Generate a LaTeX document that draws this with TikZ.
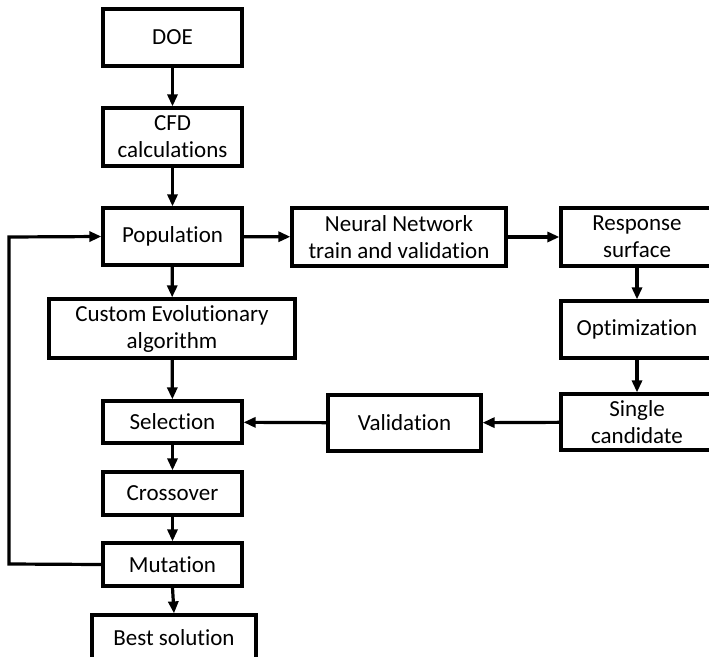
\documentclass[tikz,border=0pt]{standalone}
\usepackage{fontspec}
\setmainfont[RawFeature={-liga;-clig;-calt;-dlig}]{Carlito}
\usetikzlibrary{arrows.meta}
\begin{document}
\begin{tikzpicture}[x=1pt,y=-1pt,
  box/.style={draw=black, line width=3.2pt, fill=white, align=center, inner sep=0pt,
    font=\fontsize{23}{27}\selectfont},
  conn/.style={line width=3.2pt, -{Triangle[length=12pt,width=10pt]}}]
\useasboundingbox (0,0) rectangle (709,656);
% left column
\node[box, minimum width=139pt, minimum height=57pt] (doe) at (172.5,37.5) {DOE};
\node[box, minimum width=139pt, minimum height=58pt] (cfd) at (172.5,137) {CFD\\calculations};
\node[box, minimum width=139pt, minimum height=57pt] (pop) at (172.5,236.5) {Population};
\node[box, minimum width=246pt, minimum height=59pt] (cea) at (172,328.5) {Custom Evolutionary\\algorithm};
\node[box, minimum width=139pt, minimum height=42pt] (sel) at (172.5,422) {Selection};
\node[box, minimum width=139pt, minimum height=43pt] (cro) at (172.5,493.5) {Crossover};
\node[box, minimum width=139pt, minimum height=43pt] (mut) at (172.5,564.5) {Mutation};
\node[box, minimum width=164pt, minimum height=45pt] (best) at (174,637.5) {Best solution};
% right part
\node[box, minimum width=214pt, minimum height=58pt] (nn) at (399,237) {Neural Network\\train and validation};
\node[box, minimum width=152pt, minimum height=58pt] (rs) at (637,237) {Response\\surface};
\node[box, minimum width=152pt, minimum height=57pt] (opt) at (637,329.5) {Optimization};
\node[box, minimum width=152pt, minimum height=56pt] (sc) at (637,422) {Single\\candidate};
\node[box, minimum width=153pt, minimum height=56pt] (val) at (404.5,423) {Validation};
% connectors
\draw[conn] (doe) -- (cfd);
\draw[conn] (cfd) -- (pop);
\draw[conn] (pop) -- (cea);
\draw[conn] (cea) -- (sel);
\draw[conn] (sel) -- (cro);
\draw[conn] (cro) -- (mut);
\draw[conn] (mut.south) -- (best.north);
\draw[conn] (pop) -- (nn);
\draw[conn] (nn) -- (rs);
\draw[conn] (rs) -- (opt);
\draw[conn] (opt) -- (sc);
\draw[conn] (sc) -- (val);
\draw[conn] (val) -- (sel);
\coordinate (lb) at (9,564);
\coordinate (lt) at (9,237);
\draw[conn] (mut.west) -- (lb) -- (lt) -- (pop.west);
\end{tikzpicture}
\end{document}
